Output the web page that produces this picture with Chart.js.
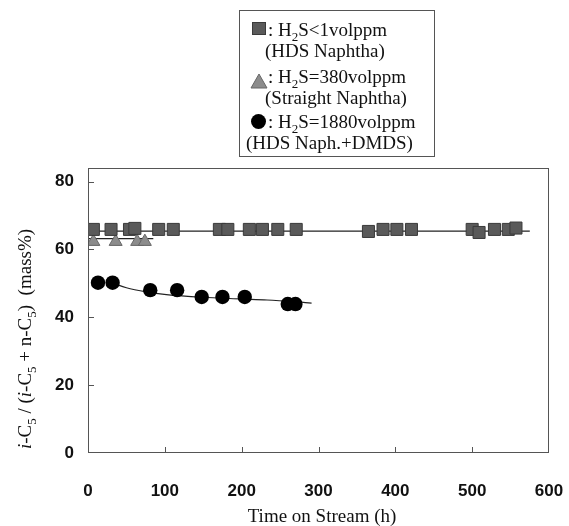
<!DOCTYPE html>
<html>
<head>
<meta charset="utf-8">
<script src="https://cdn.jsdelivr.net/npm/chart.js@4"></script>
<style>
  html, body { margin: 0; padding: 0; background: #fff; }
  #wrap { width: 569px; height: 526px; }
</style>
</head>
<body>
<div id="wrap"><canvas id="c" width="569" height="526"></canvas></div>
<script>
// values
const xTicks = [0, 100, 200, 300, 400, 500, 600];
const yTicks = [0, 20, 40, 60, 80];

// H2S<1volppm (HDS Naphtha)
const squareX = [7, 30, 54, 61, 92, 111, 171, 182, 210, 227, 247, 271, 365, 384, 402, 421, 500, 509, 529, 547, 557];
const squareY = [65.9, 65.9, 65.9, 66.2, 65.9, 65.9, 65.9, 65.9, 65.9, 65.9, 65.9, 65.9, 65.3, 65.9, 65.9, 65.9, 65.9, 65.0, 65.9, 65.9, 66.3];
// H2S=380volppm (Straight Naphtha)
const triX = [7, 36, 64, 74];
const triY = [62.3, 62.3, 62.3, 62.3];
// H2S=1880volppm (HDS Naph.+DMDS)
const circX = [13, 32, 81, 116, 148, 175, 204, 260, 270];
const circY = [50.2, 50.2, 48.0, 48.0, 46.0, 46.0, 46.0, 43.9, 43.9];

// trend lines
const squareFitX = [0, 575];
const squareFitY = [65.4, 65.4];
const triFitX = [0, 85];
const triFitY = [63.2, 63.2];
const circFitX = [33, 50, 76, 102, 148, 200, 233, 291];
const circFitY = [50.0, 48.7, 47.5, 46.7, 45.9, 45.4, 45.1, 44.2];

function pts(xs, ys) {
  return xs.map((x, i) => ({ x: x, y: ys[i] }));
}

const serif = '"Liberation Serif", "Times New Roman", serif';

// draw text pieces in a row: [text, style] where style is '', 'i' (italic) or 'sub'
function drawRich(ctx, parts, x, y, size) {
  parts.forEach(p => {
    const t = p[0], st = p[1] || '';
    let f = size, dy = 0, it = '';
    if (st === 'sub') { f = Math.round(size * 0.68); dy = size * 0.28; }
    if (st === 'i') it = 'italic ';
    ctx.font = it + f + 'px ' + serif;
    ctx.fillText(t, x, y + dy);
    x += ctx.measureText(t).width;
  });
  return x;
}
function richWidth(ctx, parts, size) {
  let w = 0;
  parts.forEach(p => {
    const st = p[1] || '';
    let f = size, it = '';
    if (st === 'sub') f = Math.round(size * 0.68);
    if (st === 'i') it = 'italic ';
    ctx.font = it + f + 'px ' + serif;
    w += ctx.measureText(p[0]).width;
  });
  return w;
}

const decor = {
  id: 'decor',
  afterDraw(chart) {
    const ctx = chart.ctx;
    const a = chart.chartArea;
    const xs = chart.scales.x, ys = chart.scales.y;
    ctx.save();

    // frame
    ctx.strokeStyle = '#555';
    ctx.lineWidth = 1;
    ctx.strokeRect(a.left + 0.5, a.top + 0.5, a.right - a.left - 1, a.bottom - a.top - 1);

    // inner ticks
    ctx.beginPath();
    xTicks.slice(1, -1).forEach(v => {
      const px = Math.round(xs.getPixelForValue(v)) + 0.5;
      ctx.moveTo(px, a.bottom);
      ctx.lineTo(px, a.bottom - 6);
    });
    yTicks.slice(1).forEach(v => {
      const py = Math.round(ys.getPixelForValue(v)) + 0.5;
      ctx.moveTo(a.left, py);
      ctx.lineTo(a.left + 6, py);
    });
    ctx.stroke();

    // y axis title
    ctx.fillStyle = '#111';
    ctx.textBaseline = 'alphabetic';
    const yt = [['i', 'i'], ['-C'], ['5', 'sub'], [' / ('], ['i', 'i'], ['-C'], ['5', 'sub'], [' + n-C'], ['5', 'sub'], [')  (mass%)']];
    const ysz = 19;
    const w = richWidth(ctx, yt, ysz);
    ctx.save();
    ctx.translate(31, 339);
    ctx.rotate(-Math.PI / 2);
    drawRich(ctx, yt, -w / 2, 0, ysz);
    ctx.restore();

    // legend box
    ctx.strokeStyle = '#555';
    ctx.strokeRect(239.5, 10.5, 195, 146);
    const lsz = 19;
    drawRich(ctx, [[':'], [' H'], ['2', 'sub'], ['S<1volppm']], 268, 36, lsz);
    drawRich(ctx, [['(HDS Naphtha)']], 265, 57, lsz);
    drawRich(ctx, [[':'], [' H'], ['2', 'sub'], ['S=380volppm']], 268, 83, lsz);
    drawRich(ctx, [['(Straight Naphtha)']], 265, 104, lsz);
    drawRich(ctx, [[':'], [' H'], ['2', 'sub'], ['S=1880volppm']], 268, 128, lsz);
    drawRich(ctx, [['(HDS Naph.+DMDS)']], 246, 149, lsz);

    // legend markers
    ctx.fillStyle = '#5a5a5a';
    ctx.strokeStyle = '#3a3a3a';
    ctx.fillRect(252, 22, 14, 13);
    ctx.strokeRect(252.5, 22.5, 13, 12);
    ctx.fillStyle = '#8c8c8c';
    ctx.strokeStyle = '#666';
    ctx.beginPath();
    ctx.moveTo(259, 74);
    ctx.lineTo(267, 88);
    ctx.lineTo(251, 88);
    ctx.closePath();
    ctx.fill();
    ctx.stroke();
    ctx.fillStyle = '#000';
    ctx.beginPath();
    ctx.arc(258.5, 121.5, 7.5, 0, Math.PI * 2);
    ctx.fill();

    // x axis title
    ctx.fillStyle = '#111';
    ctx.font = '19px ' + serif;
    ctx.textAlign = 'center';
    ctx.fillText('Time on Stream (h)', 322, 522);

    ctx.restore();
  }
};

const lineStyle = { showLine: true, pointRadius: 0, borderColor: '#222', borderWidth: 1.2, fill: false };

new Chart(document.getElementById('c'), {
  type: 'scatter',
  data: {
    datasets: [
      Object.assign({ data: pts(squareFitX, squareFitY), order: 5 }, lineStyle),
      Object.assign({ data: pts(triFitX, triFitY), order: 5 }, lineStyle),
      Object.assign({ data: pts(circFitX, circFitY), order: 5, tension: 0.4, cubicInterpolationMode: 'monotone' }, lineStyle),
      {
        data: pts(triX, triY), pointStyle: 'triangle', pointRadius: 7.5,
        backgroundColor: '#8c8c8c', borderColor: '#666', borderWidth: 1, order: 3
      },
      {
        data: pts(squareX, squareY), pointStyle: 'rect', pointRadius: 8.5,
        backgroundColor: '#5a5a5a', borderColor: '#3a3a3a', borderWidth: 1, order: 2
      },
      {
        data: pts(circX, circY), pointStyle: 'circle', pointRadius: 7.2,
        backgroundColor: '#000', borderColor: '#000', borderWidth: 0, order: 1
      }
    ]
  },
  options: {
    responsive: false,
    animation: false,
    devicePixelRatio: 1,
    layout: { padding: { left: 0, top: 168, right: 20, bottom: 0 } },
    plugins: { legend: { display: false }, tooltip: { enabled: false } },
    scales: {
      x: {
        type: 'linear', min: 0, max: 600,
        afterFit: s => { s.height = 73; },
        afterBuildTicks: s => { s.ticks = xTicks.map(v => ({ value: v })); },
        // hidden tick marks; tickLength only pushes the labels down
        grid: { display: false, drawTicks: true, tickLength: 25 },
        border: { display: false },
        ticks: { padding: 3, color: '#111', font: { family: '"Liberation Sans", Arial, sans-serif', size: 17, weight: 'bold' } }
      },
      y: {
        type: 'linear', min: 0, max: 84,
        afterFit: s => { s.width = 88; },
        afterBuildTicks: s => { s.ticks = yTicks.map(v => ({ value: v })); },
        grid: { display: false },
        border: { display: false },
        ticks: { padding: 6, color: '#111', font: { family: '"Liberation Sans", Arial, sans-serif', size: 17, weight: 'bold' } }
      }
    }
  },
  plugins: [decor]
});
</script>
</body>
</html>
